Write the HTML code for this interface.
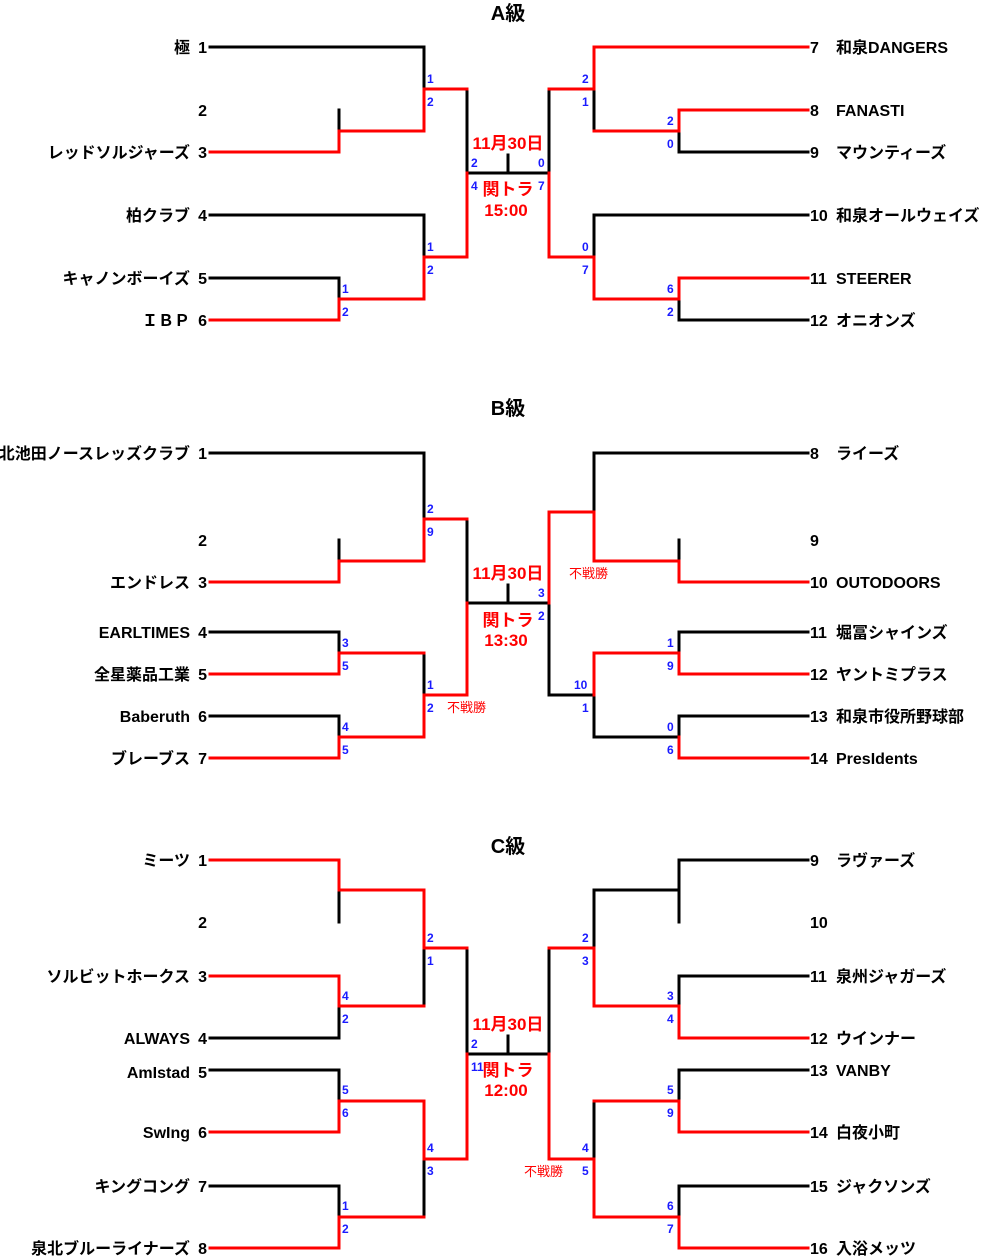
<!DOCTYPE html>
<html><head><meta charset="utf-8"><style>
html,body{margin:0;padding:0;background:#fff;}
svg{display:block;}
.n{font-family:"Liberation Sans","Noto Sans CJK JP",sans-serif;font-weight:bold;font-size:16px;fill:#000;}
.s{font-family:"Liberation Sans",sans-serif;font-weight:bold;font-size:12px;fill:#1a1aff;}
.t{font-family:"Liberation Sans","Noto Sans CJK JP",sans-serif;font-weight:bold;font-size:20px;fill:#000;}
.d{font-family:"Liberation Sans","Noto Sans CJK JP",sans-serif;font-weight:bold;font-size:17px;fill:#f00;}
.f{font-family:"Liberation Sans","Noto Sans CJK JP",sans-serif;font-size:13px;fill:#f00;}
.b{fill:none;stroke:#000;stroke-width:3;stroke-linecap:square;}
.r{fill:none;stroke:#f00;stroke-width:3;stroke-linecap:square;}
</style></head><body>
<svg width="995" height="1258" viewBox="0 0 995 1258" xmlns="http://www.w3.org/2000/svg">
<!-- ========== A ========== -->
<text class="t" x="508" y="20" text-anchor="middle">A級</text>
<path class="b" d="M210 47H424V89 M339 110V131 M467 89V173H549 M508 155V173 M210 215H424V257 M210 278H339V299 M549 89V173 M594 89V131 M679 131V152H808 M808 215H594V257 M679 299V320H808"/>
<path class="r" d="M467 89H424V131H339V152H210 M467 173V257H424V299H339V320H210 M549 89H594V47H808 M594 131H679V110H808 M549 173V257H594V299H679V278H808"/>
<g class="n" text-anchor="end">
<text x="190" y="53">極</text><text x="207" y="53">1</text>
<text x="207" y="116">2</text>
<text x="190" y="158">レッドソルジャーズ</text><text x="207" y="158">3</text>
<text x="190" y="221">柏クラブ</text><text x="207" y="221">4</text>
<text x="190" y="284">キャノンボーイズ</text><text x="207" y="284">5</text>
<text x="190" y="326">ＩＢＰ</text><text x="207" y="326">6</text>
</g>
<g class="n">
<text x="810" y="53">7</text><text x="836" y="53">和泉DANGERS</text>
<text x="810" y="116">8</text><text x="836" y="116">FANASTI</text>
<text x="810" y="158">9</text><text x="836" y="158">マウンティーズ</text>
<text x="810" y="221">10</text><text x="836" y="221">和泉オールウェイズ</text>
<text x="810" y="284">11</text><text x="836" y="284">STEERER</text>
<text x="810" y="326">12</text><text x="836" y="326">オニオンズ</text>
</g>
<g class="s">
<text x="427" y="83">1</text><text x="427" y="106">2</text>
<text x="427" y="251">1</text><text x="427" y="274">2</text>
<text x="342" y="293">1</text><text x="342" y="316">2</text>
<text x="471" y="167">2</text><text x="471" y="190">4</text>
<text x="538" y="167">0</text><text x="538" y="190">7</text>
<text x="582" y="83">2</text><text x="582" y="106">1</text>
<text x="667" y="125">2</text><text x="667" y="148">0</text>
<text x="582" y="251">0</text><text x="582" y="274">7</text>
<text x="667" y="293">6</text><text x="667" y="316">2</text>
</g>
<g class="d" text-anchor="middle">
<text x="508" y="149">11月30日</text><text x="508" y="195">関トラ</text><text x="506" y="216">15:00</text>
</g>
<!-- ========== B ========== -->
<text class="t" x="508" y="415" text-anchor="middle">B級</text>
<path class="b" d="M210 453H424V519 M339 540V561 M467 519V603H549 M508 585V603 M210 632H339V653 M424 653V695 M210 716H339V737 M549 603V695H594 M808 453H594V512 M679 540V561 M594 695V737H679 M808 632H679V653 M808 716H679V737"/>
<path class="r" d="M467 519H424V561H339V582H210 M467 603V695H424V737H339V758H210 M339 653H424 M339 653V674H210 M549 603V512H594V561H679V582H808 M594 695V653H679V674H808 M679 737V758H808"/>
<g class="n" text-anchor="end">
<text x="190" y="459">北池田ノースレッズクラブ</text><text x="207" y="459">1</text>
<text x="207" y="546">2</text>
<text x="190" y="588">エンドレス</text><text x="207" y="588">3</text>
<text x="190" y="638">EARLTIMES</text><text x="207" y="638">4</text>
<text x="190" y="680">全星薬品工業</text><text x="207" y="680">5</text>
<text x="190" y="722">Baberuth</text><text x="207" y="722">6</text>
<text x="190" y="764">ブレーブス</text><text x="207" y="764">7</text>
</g>
<g class="n">
<text x="810" y="459">8</text><text x="836" y="459">ライーズ</text>
<text x="810" y="546">9</text>
<text x="810" y="588">10</text><text x="836" y="588">OUTODOORS</text>
<text x="810" y="638">11</text><text x="836" y="638">堀冨シャインズ</text>
<text x="810" y="680">12</text><text x="836" y="680">ヤントミプラス</text>
<text x="810" y="722">13</text><text x="836" y="722">和泉市役所野球部</text>
<text x="810" y="764">14</text><text x="836" y="764">PresIdents</text>
</g>
<g class="s">
<text x="427" y="513">2</text><text x="427" y="536">9</text>
<text x="342" y="647">3</text><text x="342" y="670">5</text>
<text x="427" y="689">1</text><text x="427" y="712">2</text>
<text x="342" y="731">4</text><text x="342" y="754">5</text>
<text x="538" y="597">3</text><text x="538" y="620">2</text>
<text x="667" y="647">1</text><text x="667" y="670">9</text>
<text x="574" y="689">10</text><text x="582" y="712">1</text>
<text x="667" y="731">0</text><text x="667" y="754">6</text>
</g>
<text class="f" x="447" y="712">不戦勝</text>
<text class="f" x="569" y="578">不戦勝</text>
<g class="d" text-anchor="middle">
<text x="508" y="579">11月30日</text><text x="508" y="626">関トラ</text><text x="506" y="646">13:30</text>
</g>
<!-- ========== C ========== -->
<text class="t" x="508" y="853" text-anchor="middle">C級</text>
<path class="b" d="M339 890V922 M424 948V1006 M210 1038H339V1006 M467 948V1054H549 M508 1036V1054 M210 1070H339V1101 M424 1159V1217 M210 1186H339V1217 M549 948V1054 M594 948V890H679 M808 860H679V922 M808 976H679V1006 M594 1101V1159 M808 1070H679V1101 M808 1186H679V1217"/>
<path class="r" d="M210 860H339V890H424V948H467 M210 976H339V1006H424 M467 1054V1159H424V1101H339V1132H210 M339 1101H424 M339 1217H424 M339 1217V1248H210 M594 948H549 M594 948V1006H679V1038H808 M549 1054V1159H594V1217H679V1248H808 M594 1101H679V1132H808"/>
<g class="n" text-anchor="end">
<text x="190" y="866">ミーツ</text><text x="207" y="866">1</text>
<text x="207" y="928">2</text>
<text x="190" y="982">ソルビットホークス</text><text x="207" y="982">3</text>
<text x="190" y="1044">ALWAYS</text><text x="207" y="1044">4</text>
<text x="190" y="1078">AmIstad</text><text x="207" y="1078">5</text>
<text x="190" y="1138">SwIng</text><text x="207" y="1138">6</text>
<text x="190" y="1192">キングコング</text><text x="207" y="1192">7</text>
<text x="190" y="1254">泉北ブルーライナーズ</text><text x="207" y="1254">8</text>
</g>
<g class="n">
<text x="810" y="866">9</text><text x="836" y="866">ラヴァーズ</text>
<text x="810" y="928">10</text>
<text x="810" y="982">11</text><text x="836" y="982">泉州ジャガーズ</text>
<text x="810" y="1044">12</text><text x="836" y="1044">ウインナー</text>
<text x="810" y="1076">13</text><text x="836" y="1076">VANBY</text>
<text x="810" y="1138">14</text><text x="836" y="1138">白夜小町</text>
<text x="810" y="1192">15</text><text x="836" y="1192">ジャクソンズ</text>
<text x="810" y="1254">16</text><text x="836" y="1254">入浴メッツ</text>
</g>
<g class="s">
<text x="427" y="942">2</text><text x="427" y="965">1</text>
<text x="342" y="1000">4</text><text x="342" y="1023">2</text>
<text x="342" y="1094">5</text><text x="342" y="1117">6</text>
<text x="427" y="1152">4</text><text x="427" y="1175">3</text>
<text x="342" y="1210">1</text><text x="342" y="1233">2</text>
<text x="471" y="1048">2</text><text x="471" y="1071">11</text>
<text x="582" y="942">2</text><text x="582" y="965">3</text>
<text x="667" y="1000">3</text><text x="667" y="1023">4</text>
<text x="667" y="1094">5</text><text x="667" y="1117">9</text>
<text x="582" y="1152">4</text><text x="582" y="1175">5</text>
<text x="667" y="1210">6</text><text x="667" y="1233">7</text>
</g>
<text class="f" x="524" y="1176">不戦勝</text>
<g class="d" text-anchor="middle">
<text x="508" y="1030">11月30日</text><text x="508" y="1076">関トラ</text><text x="506" y="1096">12:00</text>
</g>
</svg>
</body></html>
